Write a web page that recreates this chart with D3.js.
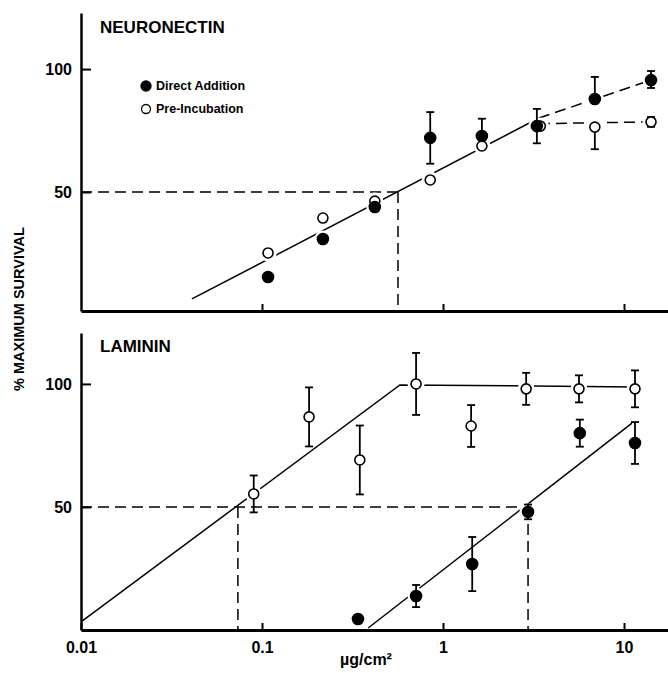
<!DOCTYPE html>
<html>
<head>
<meta charset="utf-8">
<script src="https://cdn.jsdelivr.net/npm/d3@7.9.0/dist/d3.min.js"></script>
<style>
  html, body { margin: 0; padding: 0; background: #fff; }
  svg text { font-family: "Liberation Sans", Arial, Helvetica, sans-serif; font-weight: bold; fill: #000; }
</style>
</head>
<body>
<svg id="chart" width="668" height="673"></svg>
<script>
// ---- data (x in µg/cm², y in % maximum survival) ----
const yTicks = [50, 100];
const xTicks = [0.01, 0.1, 1, 10];
const xTickLabels = ['0.01', '0.1', '1', '10'];

// Neuronectin, direct addition (filled)
const neuroDirectX   = [0.108, 0.217, 0.42, 0.85, 1.64, 3.30, 6.9, 14.1];
const neuroDirectY   = [15.4, 30.9, 43.9, 72.0, 72.8, 76.8, 87.8, 95.5];
const neuroDirectUp  = [0, 0, 0, 10.5, 7, 7, 9, 3.7];
const neuroDirectDn  = [0, 0, 0, 10.5, 0, 7, 0, 3.2];
// Neuronectin, pre-incubation (open)
const neuroPreX      = [0.108, 0.217, 0.42, 0.85, 1.64, 3.45, 6.9, 14.1];
const neuroPreY      = [25.2, 39.4, 46.3, 54.9, 68.7, 76.8, 76.4, 78.5];
const neuroPreUp     = [0, 0, 0, 0, 0, 0, 0, 2];
const neuroPreDn     = [0, 0, 0, 0, 0, 0, 9, 2];
// Neuronectin fitted lines
const neuroFit        = [[0.041, 6.5], [3.39, 80.1]];
const neuroDirectTail = [[3.39, 80.1], [14.1, 95.5]];
const neuroPreTail    = [[3.39, 77.8], [14.1, 78.5]];
const neuroHalf       = 0.564;

// Laminin, pre-incubation (open)
const lamPreX   = [0.090, 0.182, 0.347, 0.71, 1.43, 2.88, 5.64, 11.5];
const lamPreY   = [55.3, 86.6, 69.1, 100, 82.9, 98, 98, 98];
const lamPreErr = [7.5, 12, 14, 12.6, 8.5, 6.5, 5.5, 7.5];
// Laminin, direct addition (filled)
const lamDirectX   = [0.339, 0.71, 1.45, 2.95, 5.7, 11.5];
const lamDirectY   = [4.5, 13.8, 26.8, 48, 80, 76];
const lamDirectErr = [0, 4.5, 11, 3, 5.5, 8.5];
// Laminin fitted lines
const lamPreFit    = [[0.01, 3.3], [0.578, 99.6], [11.5, 98.8]];
const lamDirectFit = [[0.386, 0.8], [11.07, 84.1]];
const lamHalfPre    = 0.0736;
const lamHalfDirect = 2.95;

const svg = d3.select('#chart');

const x = d3.scaleLog().domain([0.01, 17.5]).range([81, 668]);
const yTop = d3.scaleLinear().domain([1.6, 122.8]).range([311, 13]);
const yBot = d3.scaleLinear().domain([0, 120.7]).range([630, 333]);

const dash = '11,6';

function panel(y, opts) {
  const g = svg.append('g');

  // axes
  const yAxis = d3.axisLeft(y).tickValues(yTicks).tickSizeInner(-10).tickSizeOuter(0).tickPadding(9);
  const ya = g.append('g').attr('transform', `translate(${x.range()[0]},0)`).call(yAxis);
  ya.select('.domain').attr('stroke-width', 2.5);
  ya.selectAll('.tick line').attr('stroke-width', 2);
  ya.selectAll('.tick text').style('font-size', '16px');

  const xAxis = d3.axisBottom(x).tickValues(opts.labels ? xTicks : xTicks.slice(1))
    .tickSizeInner(-7).tickSizeOuter(0).tickPadding(12)
    .tickFormat((d, i) => opts.labels ? xTickLabels[i] : '');
  const xa = g.append('g').attr('transform', `translate(0,${y.range()[0]})`).call(xAxis);
  xa.select('.domain').attr('stroke-width', 3);
  xa.selectAll('.tick line').attr('stroke-width', 2);
  xa.selectAll('.tick text').style('font-size', '16px');

  // title
  g.append('text').attr('x', 100).attr('y', opts.titleY)
    .style('font-size', '17px').text(opts.title);

  const line = d3.line().x(d => x(d[0])).y(d => y(d[1]));

  // 50% reference lines
  g.append('path')
    .datum([[0.01, 50], [d3.max(opts.halves), 50]])
    .attr('d', line).attr('fill', 'none').attr('stroke', '#000')
    .attr('stroke-width', 1.5).attr('stroke-dasharray', dash);
  opts.halves.forEach(h => {
    g.append('path')
      .datum([[h, 50], [h, y.domain()[0]]])
      .attr('d', line).attr('fill', 'none').attr('stroke', '#000')
      .attr('stroke-width', 1.5).attr('stroke-dasharray', dash);
  });

  // fits
  opts.fits.forEach(f => {
    g.append('path').datum(f.pts).attr('d', line)
      .attr('fill', 'none').attr('stroke', '#000').attr('stroke-width', 1.5)
      .attr('stroke-dasharray', f.dashed ? dash : null);
  });

  const all = opts.series.map(s => s.x.map((xv, i) => ({ x: xv, y: s.y[i], up: s.up[i], dn: s.dn[i], filled: s.filled })));

  // white gap in the fitted lines around each marker
  g.append('g').selectAll('circle').data(all.flat()).join('circle')
    .attr('cx', d => x(d.x)).attr('cy', d => y(d.y)).attr('r', 8.5).attr('fill', '#fff');

  // series: errors then markers
  all.forEach(pts => {
    const eb = g.append('g');
    pts.forEach(p => {
      const cx = x(p.x);
      if (p.up > 0) {
        eb.append('line').attr('x1', cx).attr('x2', cx).attr('y1', y(p.y)).attr('y2', y(p.y + p.up));
        eb.append('line').attr('x1', cx - 4).attr('x2', cx + 4).attr('y1', y(p.y + p.up)).attr('y2', y(p.y + p.up));
      }
      if (p.dn > 0) {
        eb.append('line').attr('x1', cx).attr('x2', cx).attr('y1', y(p.y)).attr('y2', y(p.y - p.dn));
        eb.append('line').attr('x1', cx - 4).attr('x2', cx + 4).attr('y1', y(p.y - p.dn)).attr('y2', y(p.y - p.dn));
      }
    });
    eb.selectAll('line').attr('stroke', '#000').attr('stroke-width', 1.8);
    g.append('g').selectAll('circle').data(pts).join('circle')
      .attr('cx', d => x(d.x)).attr('cy', d => y(d.y))
      .attr('r', d => d.filled ? 5.5 : 5)
      .attr('fill', d => d.filled ? '#000' : '#fff')
      .attr('stroke', '#000').attr('stroke-width', 1.6);
  });
}

panel(yTop, {
  title: 'NEURONECTIN', titleY: 33, labels: false,
  halves: [neuroHalf],
  fits: [
    { pts: neuroFit, dashed: false },
    { pts: neuroDirectTail, dashed: true },
    { pts: neuroPreTail, dashed: true }
  ],
  series: [
    { x: neuroPreX, y: neuroPreY, up: neuroPreUp, dn: neuroPreDn, filled: false },
    { x: neuroDirectX, y: neuroDirectY, up: neuroDirectUp, dn: neuroDirectDn, filled: true }
  ]
});

panel(yBot, {
  title: 'LAMININ', titleY: 352, labels: true,
  halves: [lamHalfPre, lamHalfDirect],
  fits: [
    { pts: lamPreFit, dashed: false },
    { pts: lamDirectFit, dashed: false }
  ],
  series: [
    { x: lamPreX, y: lamPreY, up: lamPreErr, dn: lamPreErr, filled: false },
    { x: lamDirectX, y: lamDirectY, up: lamDirectErr, dn: lamDirectErr, filled: true }
  ]
});

// legend
const legend = [
  { label: 'Direct Addition', filled: true },
  { label: 'Pre-Incubation', filled: false }
];
legend.forEach((d, i) => {
  const lg = svg.append('g').attr('transform', `translate(146,${86 + i * 23})`);
  lg.append('circle').attr('r', d.filled ? 5 : 4.5)
    .attr('fill', d.filled ? '#000' : '#fff').attr('stroke', '#000').attr('stroke-width', 1.3);
  lg.append('text').attr('x', 10).attr('dy', '0.35em').style('font-size', '12.5px').text(d.label);
});

// axis titles
svg.append('text')
  .attr('transform', 'translate(24,309) rotate(-90)')
  .attr('text-anchor', 'middle')
  .style('font-size', '14.5px')
  .text('% MAXIMUM SURVIVAL');

svg.append('text')
  .attr('x', 366).attr('y', 665)
  .attr('text-anchor', 'middle')
  .style('font-size', '16px')
  .text('µg/cm²');
</script>
</body>
</html>
